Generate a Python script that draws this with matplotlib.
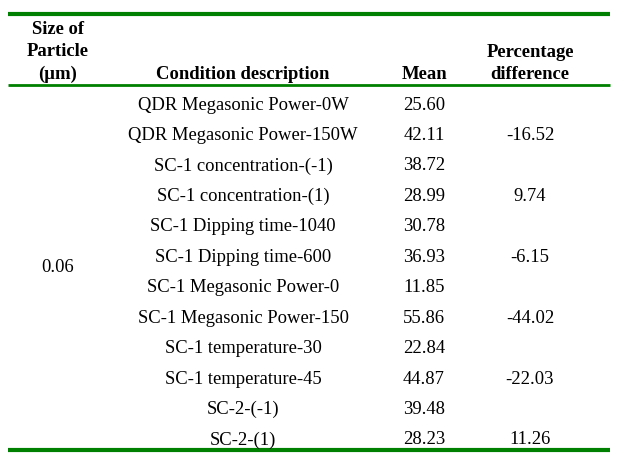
import matplotlib.pyplot as plt

plt.rcParams['font.family'] = ['Liberation Serif', 'DejaVu Serif']

headers = ['Size of\nParticle\n(\u00b5m)', 'Condition description', 'Mean', 'Percentage\ndifference']
size_label = '0.06'
conditions = ['QDR Megasonic Power-0W', 'QDR Megasonic Power-150W',
              'SC-1 concentration-(-1)', 'SC-1 concentration-(1)',
              'SC-1 Dipping time-1040', 'SC-1 Dipping time-600',
              'SC-1 Megasonic Power-0', 'SC-1 Megasonic Power-150',
              'SC-1 temperature-30', 'SC-1 temperature-45',
              'SC-2-(-1)', 'SC-2-(1)']
means = ['25.60', '42.11', '38.72', '28.99', '30.78', '36.93',
         '11.85', '55.86', '22.84', '44.87', '39.48', '28.23']
pct_diff = ['', '-16.52', '', '9.74', '', '-6.15',
            '', '-44.02', '', '-22.03', '', '11.26']

W, H = 619, 467
fig = plt.figure(figsize=(W / 100, H / 100), dpi=100)
ax = fig.add_axes([0, 0, 1, 1])
ax.set_xlim(0, W)
ax.set_ylim(H, 0)
ax.axis('off')

green = '#008000'
fs = 13.4
col_x = [58, 243, 424, 530]

# rules
ax.plot([8, 610], [14, 14], color=green, lw=3, solid_capstyle='butt')
ax.plot([8, 610], [84.7, 84.7], color=green, lw=2, solid_capstyle='butt')
ax.plot([8, 610], [449.5, 449.5], color=green, lw=3, solid_capstyle='butt')

# header
for x, h in zip(col_x, headers):
    ax.text(x, 83, h, ha='center', va='bottom', fontsize=fs, fontweight='bold',
            linespacing=1.42)

# body
row_y0, row_dy = 105, 30.45
for i, (c, m, p) in enumerate(zip(conditions, means, pct_diff)):
    y = row_y0 + i * row_dy
    ax.text(col_x[1], y, c, ha='center', va='center', fontsize=fs)
    ax.text(col_x[2], y, m, ha='center', va='center', fontsize=fs)
    if p:
        ax.text(col_x[3], y, p, ha='center', va='center', fontsize=fs)

ax.text(col_x[0], 268, size_label, ha='center', va='center', fontsize=fs)

fig.savefig('out.png', dpi=100, facecolor='white')
